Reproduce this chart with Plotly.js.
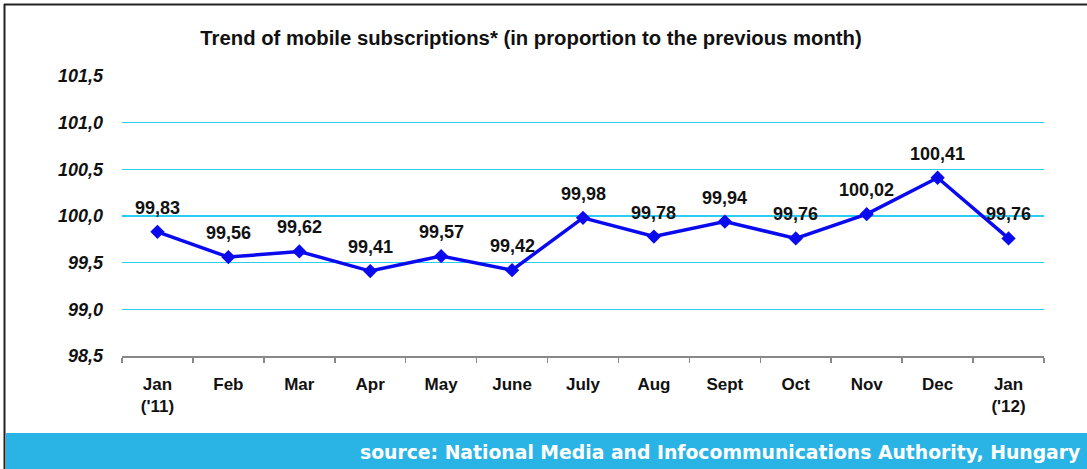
<!DOCTYPE html>
<html>
<head>
<meta charset="utf-8">
<script src="https://cdn.plot.ly/plotly-3.0.1.min.js"></script>
<style>html,body{margin:0;padding:0;background:#fff;}#chart{width:1087px;height:469px;}</style>
</head>
<body>
<div id="chart"></div>
<script>
const months = ["Jan<br>('11)", "Feb", "Mar", "Apr", "May", "June", "July", "Aug", "Sept", "Oct", "Nov", "Dec", "Jan<br>('12)"];
const values = [99.83, 99.56, 99.62, 99.41, 99.57, 99.42, 99.98, 99.78, 99.94, 99.76, 100.02, 100.41, 99.76];
const yTicks = [98.5, 99.0, 99.5, 100.0, 100.5, 101.0, 101.5];
const titleText = "Trend of mobile subscriptions* (in proportion to the previous month)";
const sourceText = "source: National Media and Infocommunications Authority, Hungary";

const FONT = "Liberation Sans, Arial, sans-serif";
const trace = {
  x: months,
  y: values,
  type: "scatter",
  mode: "lines+markers",
  line: {color: "#0A0AEE", width: 3.5},
  marker: {symbol: "diamond", size: 11, color: "#0A0AEE"},
  hoverinfo: "none",
  cliponaxis: false
};

const valueLabels = months.map((m, i) => ({
  x: m, y: values[i], xref: "x", yref: "y",
  text: values[i].toFixed(2).replace(".", ","),
  showarrow: false, yshift: 24, xanchor: "center", yanchor: "middle",
  font: {family: FONT, size: 18, color: "#111", weight: "bold"}
}));

const pw = 922, ph = 280;
const layout = {
  width: 1087, height: 469,
  margin: {l: 122, r: 43, t: 76, b: 113},
  paper_bgcolor: "#fff", plot_bgcolor: "#fff",
  separators: ", ",
  showlegend: false,
  font: {family: FONT, color: "#111"},
  title: {
    text: titleText,
    font: {size: 20.3, weight: "bold", color: "#111", family: FONT},
    x: (531 - 122)/pw, xanchor: "center", y: 1 - 38/469, yanchor: "middle", xref: "paper", yref: "container"
  },
  xaxis: {
    type: "category",
    range: [-0.5, 12.5],
    showgrid: false,
    showline: true, linecolor: "#888", linewidth: 1.5,
    ticks: "outside", tickson: "boundaries", ticklen: 5, tickcolor: "#888", tickwidth: 1.5,
    ticklabelstandoff: 12,
    tickfont: {size: 17, weight: "bold", color: "#111", family: FONT},
    zeroline: false,
    fixedrange: true
  },
  yaxis: {
    range: [98.5, 101.5],
    tickvals: yTicks,
    tickformat: ".1f",
    showgrid: true, gridcolor: "#2CCDF2", gridwidth: 1.5,
    showline: false, zeroline: false,
    ticks: "", ticklabelstandoff: 18,
    tickfont: {size: 18, weight: "bold", style: "italic", color: "#111", family: FONT},
    fixedrange: true
  },
  shapes: [
    {type: "rect", xref: "paper", yref: "paper",
     x0: (6 - 122)/pw, x1: (1087 - 122)/pw, y0: (356 - 469)/ph, y1: (356 - 433)/ph,
     fillcolor: "#2AB4E6", line: {width: 0}, layer: "below"},
    {type: "line", xref: "paper", yref: "paper",
     x0: (4.5 - 122)/pw, x1: (4.5 - 122)/pw, y0: (356 - 469)/ph, y1: (356 - 4)/ph,
     line: {color: "#222", width: 2}},
    {type: "line", xref: "paper", yref: "paper",
     x0: (4 - 122)/pw, x1: (1087 - 122)/pw, y0: (356 - 4.5)/ph, y1: (356 - 4.5)/ph,
     line: {color: "#222", width: 2}}
  ],
  annotations: valueLabels.concat([
    {text: sourceText, xref: "paper", yref: "paper", x: (1082 - 122)/pw, y: (356 - 452)/ph,
     xanchor: "right", yanchor: "middle", showarrow: false,
     font: {family: "DejaVu Sans, sans-serif", size: 18.8, weight: "bold", color: "#fff"}}
  ])
};

Plotly.newPlot("chart", [trace], layout, {displayModeBar: false, staticPlot: true});
</script>
</body>
</html>
